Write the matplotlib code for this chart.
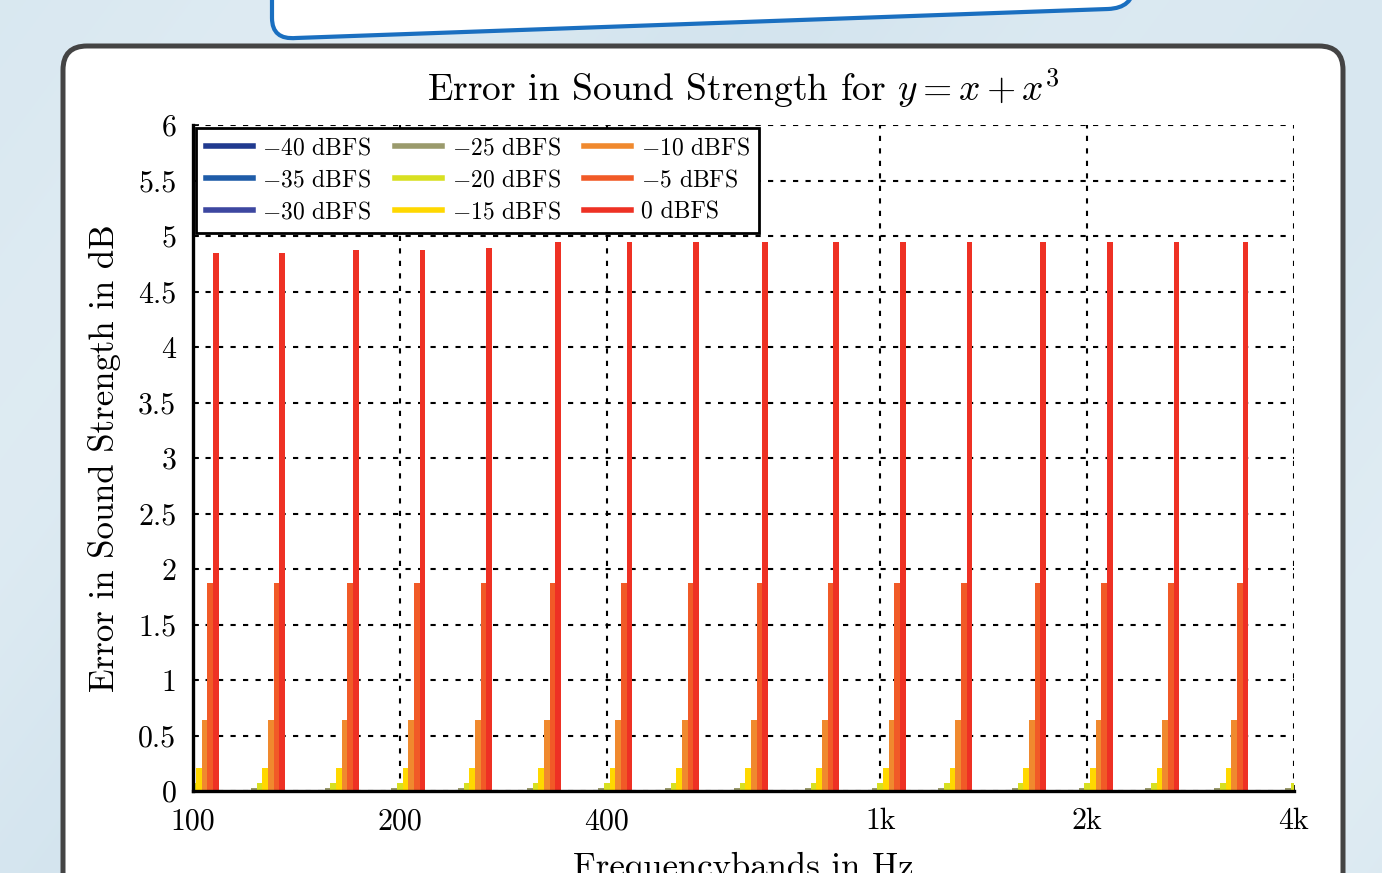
import numpy as np
import matplotlib
matplotlib.use("Agg")
import matplotlib.pyplot as plt
from matplotlib.lines import Line2D
from matplotlib.patches import FancyBboxPatch, PathPatch
from matplotlib.path import Path

# ---------------- data ----------------
bands = [100, 125, 160, 200, 250, 315, 400, 500, 630, 800,
         1000, 1250, 1600, 2000, 2500, 3150, 4000]
levels = ["−40", "−35", "−30", "−25", "−20", "−15", "−10", "−5", "0"]
level_colors = ["#203a8f", "#1f5ca8", "#3d47a0", "#9a9a6c", "#d8e021",
                "#ffd800", "#f0892e", "#f15a27", "#ee3124"]
err_m40 = [0.001] * 17
err_m35 = [0.003] * 17
err_m30 = [0.008] * 17
err_m25 = [0.025] * 17
err_m20 = [0.07] * 17
err_m15 = [0.21] * 17
err_m10 = [0.64] * 17
err_m5 = [1.87] * 17
err_0 = [4.85, 4.85, 4.87, 4.87, 4.89, 4.95, 4.95, 4.95, 4.95, 4.95,
         4.95, 4.95, 4.95, 4.95, 4.95, 4.95, 4.95]
series = [err_m40, err_m35, err_m30, err_m25, err_m20, err_m15, err_m10, err_m5, err_0]
xticks = [100, 200, 400, 1000, 2000, 4000]
xticklabels = ["100", "200", "400", "1k", "2k", "4k"]
yticks = [0, 0.5, 1, 1.5, 2, 2.5, 3, 3.5, 4, 4.5, 5, 5.5, 6]
yticklabels = ["0", "0.5", "1", "1.5", "2", "2.5", "3", "3.5", "4", "4.5", "5", "5.5", "6"]

plt.rcParams["font.family"] = ["cmr10", "DejaVu Serif"]
plt.rcParams["mathtext.fontset"] = "cm"
plt.rcParams["axes.unicode_minus"] = False

W, H = 1382, 873
fig = plt.figure(figsize=(W / 100, H / 100), dpi=100)

# ---------- background ----------
bg = fig.add_axes([0, 0, 1, 1], zorder=-10)
bg.set_axis_off()
yy, xx = np.mgrid[0:H, 0:W]
t = (xx * 0.8 + yy * 0.6) / 120.0
img = np.zeros((H, W, 3))
base = np.array([0.83, 0.895, 0.935])
light = np.array([0.89, 0.935, 0.96])
s = 0.5 + 0.5 * np.sin(t * 0.9) * np.sin(t * 0.37)
img[:] = base
img += (light - base) * np.clip(s, 0, 1)[..., None] * 0.8
bg.imshow(img, extent=[0, W, 0, H], aspect="auto", origin="upper")
bg.set_xlim(0, W)
bg.set_ylim(0, H)

def fy(y):
    return H - y

# top blue box
verts = [(272, fy(-20)), (272, fy(18)), (272, fy(40)), (296, fy(38)),
         (1108, fy(9)), (1133, fy(8)), (1134, fy(-14)), (272, fy(-20))]
codes = [Path.MOVETO, Path.LINETO, Path.CURVE3, Path.CURVE3,
         Path.LINETO, Path.CURVE3, Path.CURVE3, Path.LINETO]
bg.add_patch(PathPatch(Path(verts, codes), facecolor="white",
                       edgecolor="#1a6fc0", lw=3.0, zorder=2))

# card
card = FancyBboxPatch((63, fy(920)), 1343 - 63, 920 - 46,
                      boxstyle="round,pad=0,rounding_size=24",
                      facecolor="white", edgecolor="#444444", lw=3.6, zorder=3)
bg.add_patch(card)

# ---------- chart ----------
ax = fig.add_axes([193 / W, (H - 791) / H, (1294 - 193) / W, (791 - 125) / H])
ax.set_facecolor("white")
ax.set_xscale("log")

w_oct = 5.67 / 207.0
fc = np.array(bands, dtype=float)
for i, (vals, col, lev) in enumerate(zip(series, level_colors, levels)):
    left = fc * 2 ** ((i - 4.5) * w_oct)
    right = fc * 2 ** ((i - 3.5) * w_oct)
    ax.bar(left, vals, width=right - left, align="edge", color=col,
           edgecolor="none", zorder=3)

ax.set_xlim(100, 4000)
ax.set_ylim(0, 6)
ax.set_xticks(xticks)
ax.set_xticklabels(xticklabels)
ax.xaxis.set_minor_locator(matplotlib.ticker.NullLocator())
ax.set_yticks(yticks)
ax.set_yticklabels(yticklabels)
ax.tick_params(axis="both", labelsize=21.5, direction="in", length=4, width=1.2)
ax.tick_params(axis="x", pad=12)
ax.tick_params(axis="y", pad=12)

ax.grid(True, color="black", linestyle=(0, (2.5, 3.5)), linewidth=1.5, zorder=1)
ax.set_axisbelow(True)
for sp in ["top", "right"]:
    ax.spines[sp].set_visible(False)
for sp in ["left", "bottom"]:
    ax.spines[sp].set_linewidth(2.4)
    ax.spines[sp].set_zorder(5)

ax.set_title(r"Error in Sound Strength for $y = x + x^3$", fontsize=27, pad=17)
ax.set_ylabel("Error in Sound Strength in dB", fontsize=25, labelpad=12)
ax.set_xlabel("Frequencybands in Hz", fontsize=25, labelpad=12)

handles = [Line2D([0], [0], color=c, lw=4) for c in level_colors]
labels = [rf"$-${l[1:]} dBFS" if l.startswith("−") else f"{l} dBFS" for l in levels]
leg = ax.legend(handles, labels, ncol=3, loc="upper left",
                bbox_to_anchor=(0.003, 0.996), fontsize=17, frameon=True,
                fancybox=False, framealpha=1, edgecolor="black",
                handlelength=2.0, handletextpad=0.4, columnspacing=1.0,
                labelspacing=0.42, borderpad=0.4, borderaxespad=0.0)
leg.get_frame().set_linewidth(2.0)
leg.set_zorder(10)

fig.savefig("out.png", dpi=100)
